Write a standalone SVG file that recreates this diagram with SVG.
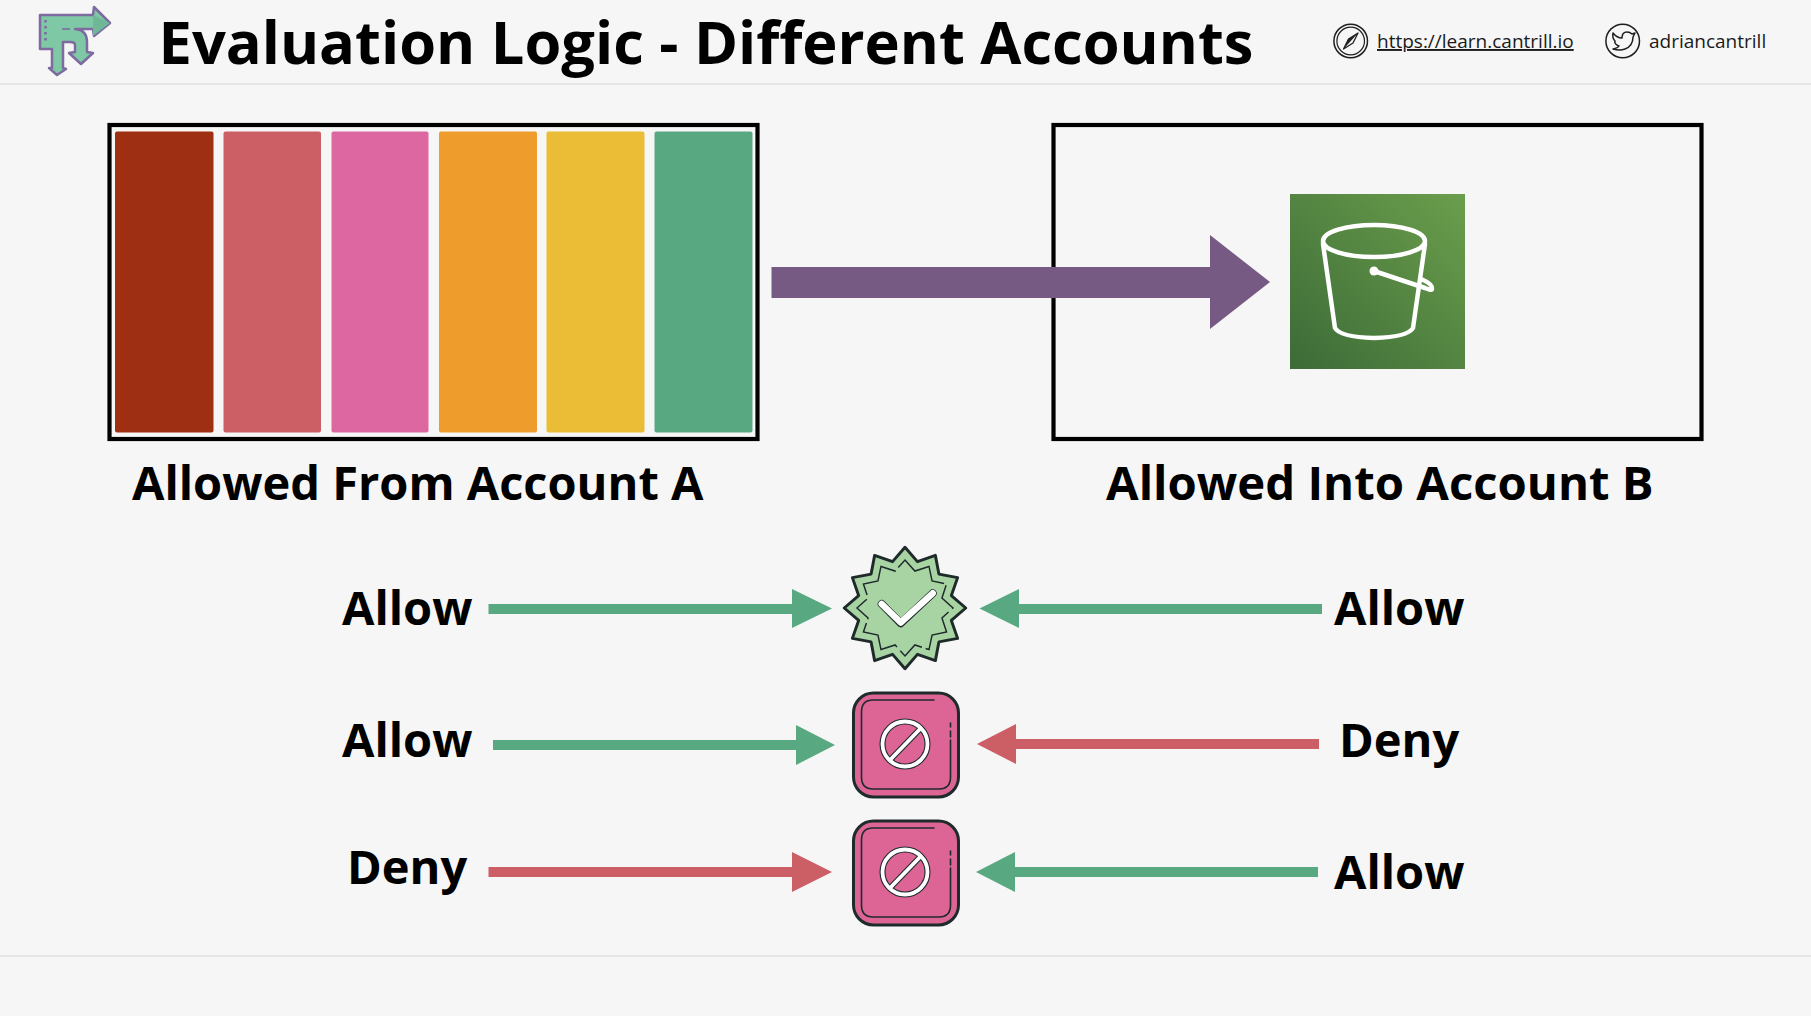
<svg xmlns="http://www.w3.org/2000/svg" width="1811" height="1016" viewBox="0 0 1811 1016">
<style>
text{font-family:"Open Sans","Noto Sans",sans-serif;fill:#000}
.b{font-weight:700}
.t{font-size:59.600px}
.l{font-size:47px}
.s{font-size:19px;fill:#1a1a1a}
.box{fill:none;stroke:#000;stroke-width:4.2}
.rule{stroke:#e0e0e0;stroke-width:1.5}
.g{fill:#58a882}.r{fill:#cc5f66}
.dk{fill:none;stroke:#1f2a2a;stroke-linecap:round;stroke-linejoin:round}
</style>
<defs>
<linearGradient id="s3" x1="0" y1="1" x2="1" y2="0"><stop offset="0" stop-color="#3c6b37"/><stop offset="1" stop-color="#6b9e4c"/></linearGradient>
<g id="deny">
<rect x="853.5" y="693" width="105" height="104" rx="20" fill="#dc6596" stroke="#1f2a2a" stroke-width="3"/>
<path class="dk" stroke-width="1.6" d="M934 700H873Q861.500 700 861.500 712V777Q861.500 789 873 789H939Q950.500 789 950.500 777V740M950.500 737V731M950.500 727V723"/>
<circle cx="905" cy="744" r="22.500" fill="none" stroke="#1f2a2a" stroke-width="6"/>
<path d="M890 760L921 728" stroke="#1f2a2a" stroke-width="6"/>
<circle cx="905" cy="744" r="22.500" fill="none" stroke="#fff" stroke-width="3.800"/>
<path d="M890 760L921 728" stroke="#fff" stroke-width="3.800"/>
</g>
</defs>
<rect width="1811" height="1016" fill="#f6f6f6"/>
<g id="header">
<line class="rule" x1="0" y1="84" x2="1811" y2="84"/>
<g id="logo">
<path d="M40 15H93L94 7L110 23L94 36L93 29H75Q87 30 87 42V52L93 53L81 64L69 53L75 52V45Q75 42 70 42H63V68L66 69L57 75L49 68L52 68V49H40Z" fill="#7fc8a5" stroke="#7d6a9e" stroke-width="2.500" stroke-linejoin="round"/>
<path d="M93 15L110 23L93 36Z" fill="#6fb797"/>
<path d="M45.500 20V44" fill="none" stroke="#7d6a9e" stroke-width="2.500" stroke-dasharray="2.500 3.500"/>
<path d="M62 29H70M74 29H75" fill="none" stroke="#7d6a9e" stroke-width="1.500"/>
</g>
<text class="t b" x="158.500" y="63.500">Evaluation Logic - Different Accounts</text>
<g id="site">
<circle cx="1350.700" cy="41" r="16.800" fill="none" stroke="#1f1f1f" stroke-width="1.500"/>
<circle cx="1350.700" cy="41" r="13.800" fill="none" stroke="#1f1f1f" stroke-width="1.200"/>
<path d="M1358 33L1353 43L1343.500 49L1348.500 39Z" fill="none" stroke="#1f1f1f" stroke-width="1.300" stroke-linejoin="round"/>
<path d="M1358 33L1348.500 39L1343.500 49Z" fill="#1f1f1f"/>
<text class="s" x="1377" y="48" text-decoration="underline">https://learn.cantrill.io</text>
</g>
<g id="twitter">
<circle cx="1622.700" cy="41" r="16.800" fill="none" stroke="#1f1f1f" stroke-width="1.500"/>
<path d="M1613 33Q1617 38 1622 38Q1622 32 1627 32Q1630 32 1632 34L1635 33L1633 37Q1633 46 1625 49Q1620 51 1613 49Q1618 48 1619 46Q1614 44 1615 41Q1612 38 1613 33Z" fill="none" stroke="#1f1f1f" stroke-width="1.500" stroke-linejoin="round"/>
<text class="s" x="1649" y="48">adriancantrill</text>
</g>
</g>
<g id="account-a">
<rect class="box" x="109.500" y="125" width="648" height="314"/>
<rect x="115" y="131.500" width="98.500" height="301" rx="2" fill="#9f2f12"/>
<rect x="223.500" y="131.500" width="97.500" height="301" rx="2" fill="#cc5f66"/>
<rect x="331.500" y="131.500" width="97" height="301" rx="2" fill="#dc67a1"/>
<rect x="439" y="131.500" width="98" height="301" rx="2" fill="#ee9c2c"/>
<rect x="546.500" y="131.500" width="98" height="301" rx="2" fill="#ebbc36"/>
<rect x="654.500" y="131.500" width="98" height="301" rx="2" fill="#58a882"/>
<text class="l b" x="132" y="500">Allowed From Account A</text>
</g>
<g id="account-b">
<rect class="box" x="1053.500" y="125" width="648" height="314"/>
<text class="l b" style="font-size:47.300px" x="1106" y="500">Allowed Into Account B</text>
</g>
<g id="bucket">
<rect x="1290" y="194" width="175" height="175" fill="url(#s3)"/>
<g fill="none" stroke="#fff" stroke-width="4.500" stroke-linecap="round" stroke-linejoin="round">
<ellipse cx="1374" cy="241" rx="51" ry="16"/>
<path d="M1323 244L1335 328Q1340 337 1374 338Q1408 337 1413 328L1425 244"/>
<path d="M1374 271L1425 288Q1432 291 1432 289Q1433 284 1421 279"/>
</g>
<circle cx="1374" cy="271" r="4.500" fill="#fff"/>
</g>
<g id="connectors">
<path d="M771.500 267H1210V235L1270 282L1210 329V298H771.500Z" fill="#775a83"/>
<path class="g" d="M488.500 604H792V589L832 608.500L792 628V614H488.500Z"/>
<path class="g" d="M1322 604H1019V589L979.500 608.500L1019 628V614H1322Z"/>
<path class="g" d="M493 740H796V725L835 745L796 765V750H493Z"/>
<path class="r" d="M1319 739H1016V724L977 744L1016 764V749H1319Z"/>
<path class="r" d="M488.500 867H792V852L832 872L792 892V877H488.500Z"/>
<path class="g" d="M1318 867H1015V852L976 872L1015 892V877H1318Z"/>
</g>
<g id="result-allow">
<g transform="translate(905 608) scale(.98) translate(-905 -608)">
<polygon points="905,546 917.700,560.700 936,554.300 939.600,573.400 958.700,577 952.300,595.300 967,608 952.300,620.700 958.700,639 939.600,642.600 936,661.700 917.700,655.300 905,670 892.300,655.300 874,661.700 870.400,642.600 851.300,639 857.700,620.700 843,608 857.700,595.300 851.300,577 870.400,573.400 874,554.300 892.300,560.700" fill="#a8d3a3" stroke="#1f2a2a" stroke-width="3" stroke-linejoin="round"/>
<polygon points="905,559 915.100,570.300 929.500,565.600 932.600,580.400 947.400,583.500 942.700,597.900 954,608 942.700,618.100 947.400,632.500 932.600,635.600 929.500,650.400 915.100,645.700 905,657 894.900,645.700 880.500,650.400 877.400,635.600 862.600,632.500 867.300,618.100 856,608 867.300,597.900 862.600,583.500 877.400,580.400 880.500,565.600 894.900,570.300" fill="none" stroke="#1f2a2a" stroke-width="1.500" stroke-dasharray="58 4 30 5"/>
</g>
<path d="M881.700 604L900.700 623.300L932.700 593.300" fill="none" stroke="#1f2a2a" stroke-width="8" stroke-linecap="round" stroke-linejoin="round"/>
<path d="M881.700 604L900.700 622.500L932.700 593.300" fill="none" stroke="#fff" stroke-width="6.500" stroke-linecap="round" stroke-linejoin="round"/>
</g>
<g id="result-deny-1"><use href="#deny"/></g>
<g id="result-deny-2"><use href="#deny" y="128"/></g>
<g id="labels">
<text class="l b" x="342" y="625">Allow</text>
<text class="l b" x="1334" y="625">Allow</text>
<text class="l b" x="342" y="757">Allow</text>
<text class="l b" x="1339" y="757">Deny</text>
<text class="l b" x="347" y="884">Deny</text>
<text class="l b" x="1334" y="889">Allow</text>
</g>
<line class="rule" x1="0" y1="956" x2="1811" y2="956"/>
</svg>
